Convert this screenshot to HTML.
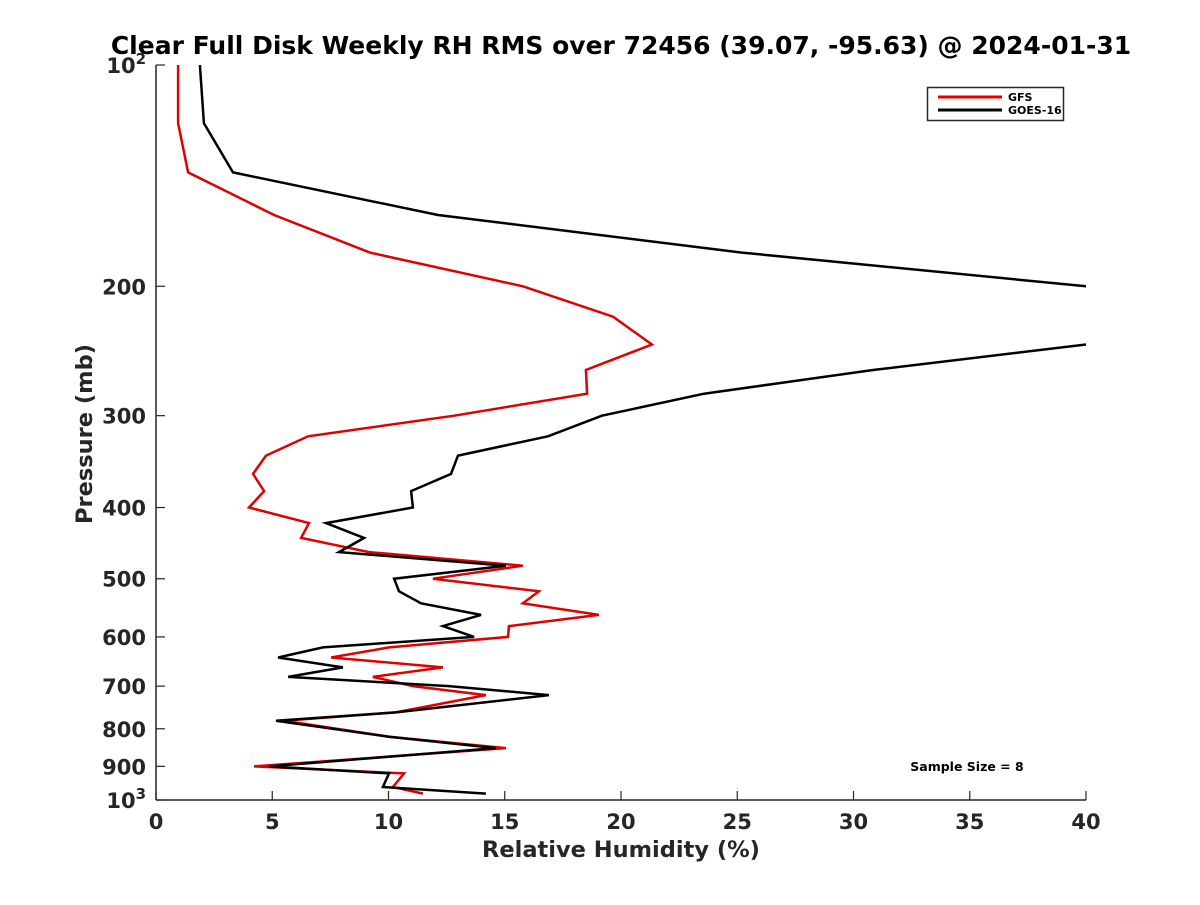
<!DOCTYPE html>
<html><head><meta charset="utf-8"><style>
body{margin:0;background:#fff}
svg text{font-family:"DejaVu Sans","Liberation Sans",sans-serif;font-weight:bold;fill:#262626}
</style></head><body>
<svg id="chart" width="1200" height="900" xmlns="http://www.w3.org/2000/svg">
<rect width="1200" height="900" fill="#fff"/>
<defs><clipPath id="plotclip"><rect x="156" y="65" width="930" height="735"/></clipPath></defs>
<text x="621" y="54" text-anchor="middle" font-size="25" style="fill:#000">Clear Full Disk Weekly RH RMS over 72456 (39.07, -95.63) @ 2024-01-31</text>
<g id="axes"></g>
<g id="series" clip-path="url(#plotclip)"></g>
<text x="621" y="857" text-anchor="middle" font-size="22.5">Relative Humidity (%)</text>
<text transform="translate(92,434) rotate(-90)" text-anchor="middle" font-size="22.5">Pressure (mb)</text>
<text x="967" y="771" text-anchor="middle" font-size="12.5" style="fill:#000">Sample Size = 8</text>
<g>
<rect x="927.5" y="87.5" width="136" height="33" fill="#fff" stroke="#262626" stroke-width="1.5"/>
<line x1="938" y1="97" x2="1002" y2="97" stroke="#e00000" stroke-width="3"/>
<line x1="938" y1="110" x2="1002" y2="110" stroke="#000" stroke-width="3"/>
<text x="1008" y="101" font-size="11" style="fill:#000">GFS</text>
<text x="1008" y="114" font-size="11" style="fill:#000">GOES-16</text>
</g>
</svg>
<script>
const pressureLevels=[100,120,140,160,180,200,220,240,260,280,300,320,340,360,380,400,420,440,460,480,500,520,540,560,580,600,620,640,660,680,700,720,760,780,820,850,900,920,960,980];
const gfsRH=[0.95,0.95,1.38,5.08,9.2,15.78,19.66,21.33,18.49,18.54,12.82,6.54,4.73,4.17,4.65,4.0,6.58,6.24,9.16,15.78,11.91,16.47,15.78,19.05,15.18,15.14,10.02,7.53,12.34,9.33,11.05,14.19,10.32,5.5,10.02,15.05,4.22,10.67,10.19,11.48];
const goesRH=[1.89,2.06,3.31,12.13,25.2,40.0,48,40.0,30.84,23.57,19.18,16.86,12.99,12.69,10.97,11.05,7.31,8.95,7.87,15.05,10.24,10.45,11.4,13.98,12.34,13.68,7.18,5.25,8.04,5.68,12.6,16.9,10.32,5.16,10.02,14.62,4.86,10.02,9.76,14.19];
const xTicks=[0,5,10,15,20,25,30,35,40];
const yTicks=[100,200,300,400,500,600,700,800,900,1000];
const yTickLabels=["10|2","200","300","400","500","600","700","800","900","10|3"];
const X0=156,X1=1086,Y0=65,Y1=800;
function xs(v){return X0+(v-0)/(40-0)*(X1-X0);}
function ys(p){return Y0+Math.log10(p/100)*(Y1-Y0);}
const NS="http://www.w3.org/2000/svg";
const axes=document.getElementById('axes');
function mk(tag,attrs,parent){const e=document.createElementNS(NS,tag);for(const k in attrs)e.setAttribute(k,attrs[k]);parent.appendChild(e);return e;}
let l=mk('line',{x1:X0,y1:Y0,x2:X0,y2:Y1,stroke:'#262626','stroke-width':1.5},axes);


l=mk('line',{x1:X0,y1:Y1,x2:X1,y2:Y1,stroke:'#262626','stroke-width':1.5},axes);


xTicks.forEach(v=>{
 const t=mk('line',{x1:xs(v),y1:Y1,x2:xs(v),y2:Y1-9,stroke:'#262626','stroke-width':1.2},axes);
 
 
 const tx=mk('text',{x:xs(v),y:Y1+29,'text-anchor':'middle','font-size':21},axes);
 tx.textContent=v;
 
 
});
yTicks.forEach((p,i)=>{
 const t=mk('line',{x1:X0,y1:ys(p),x2:X0+9,y2:ys(p),stroke:'#262626','stroke-width':1.2},axes);
 
 
 const lab=yTickLabels[i];
 const tx=mk('text',{x:X0-10,y:ys(p)+8,'text-anchor':'end','font-size':21},axes);
 if(lab.indexOf('|')>=0){
  const parts=lab.split('|');
  const a=mk('tspan',{},tx);a.textContent=parts[0];
  const b=mk('tspan',{dy:-9,'font-size':15},tx);b.textContent=parts[1];
 } else tx.textContent=lab;
 
 
});
const series=document.getElementById('series');
function draw(vals,color,name){
 const pts=vals.map((v,i)=>xs(v).toFixed(1)+','+ys(pressureLevels[i]).toFixed(1)).join(' ');
 const pl=mk('polyline',{points:pts,fill:'none',stroke:color,'stroke-width':2.5,'stroke-linejoin':'miter'},series);
 
 
}
draw(gfsRH,'#e00000','gfs-line');
draw(goesRH,'#000','goes16-line');
</script>
</body></html>
